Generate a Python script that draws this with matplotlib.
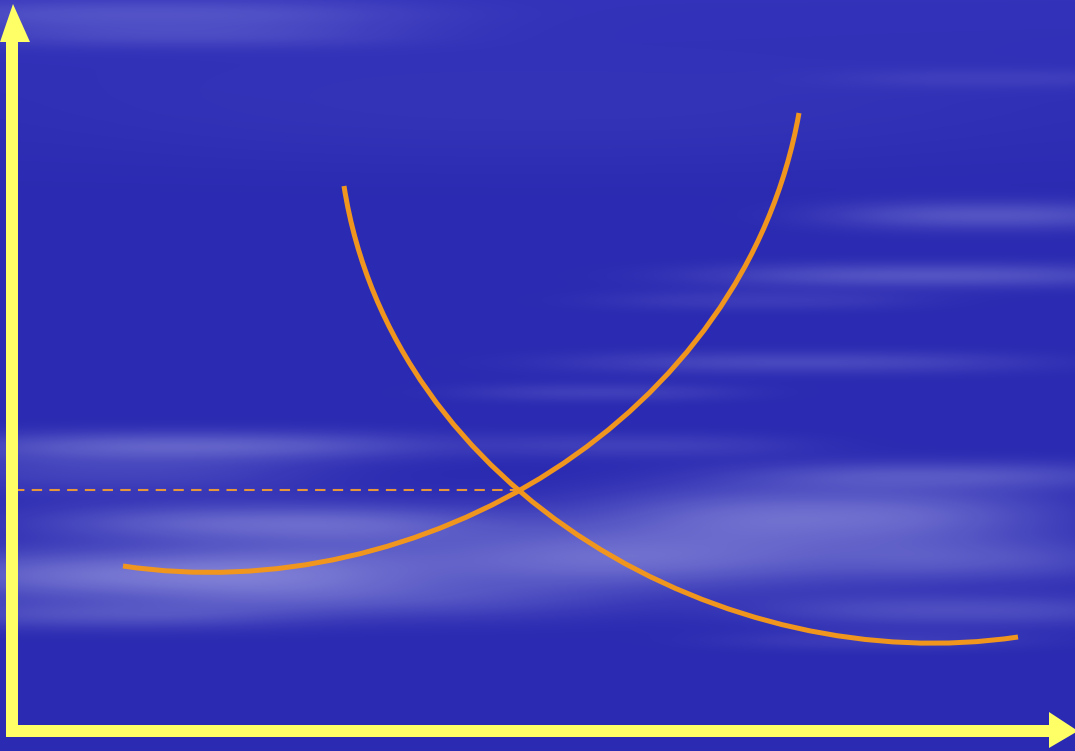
import numpy as np
import matplotlib
matplotlib.use("Agg")
import matplotlib.pyplot as plt
from matplotlib.path import Path
from matplotlib.patches import PathPatch, Polygon, Rectangle

# ---- data (arbitrary quantity / price units) ----
supply_q = [1.11, 1.88, 2.55, 3.21, 3.88, 4.55, 5.05, 5.88, 6.55, 7.05, 7.38, 7.65, 7.78, 7.87]
supply_p = [1.65, 1.62, 1.64, 1.74, 1.88, 2.09, 2.39, 2.94, 3.54, 4.18, 4.81, 5.38, 5.81, 6.18]
demand_q = [3.32, 3.41, 3.58, 3.75, 4.01, 4.41, 4.81, 5.05, 5.58, 6.24, 6.93, 7.63, 8.33, 9.23, 10.06]
demand_p = [5.45, 5.01, 4.51, 4.11, 3.61, 3.08, 2.64, 2.39, 2.01, 1.61, 1.31, 1.09, 0.95, 0.89, 0.94]
eq_q = 5.05
eq_p = 2.41

XMIN, XMAX, YMIN, YMAX = -0.12, 10.63, -0.20, 7.31
CURVE = "#F0961E"
YELLOW = "#FFFF66"

fig = plt.figure(figsize=(10.75, 7.51), dpi=100)
ax = fig.add_axes([0, 0, 1, 1])
ax.set_xlim(XMIN, XMAX)
ax.set_ylim(YMIN, YMAX)
ax.axis("off")

# ---- cloudy blue background ----
H, W = 751, 1075
yy, xx = np.mgrid[0:H, 0:W].astype(float)
base = np.array([42, 42, 178], float)
light = np.array([160, 160, 228], float)
# (cx, cy, half-length, half-height, strength)
streaks = [
    (150, 14, 260, 16, 0.28), (180, 36, 220, 12, 0.18),
    (200, 445, 230, 14, 0.40), (120, 470, 200, 25, 0.22),
    (260, 522, 220, 18, 0.42), (150, 575, 240, 26, 0.58), (100, 615, 180, 14, 0.28),
    (450, 555, 280, 40, 0.32), (380, 600, 220, 20, 0.22),
    (830, 515, 220, 30, 0.55), (940, 475, 200, 14, 0.32), (700, 560, 220, 28, 0.35),
    (990, 560, 140, 22, 0.30), (960, 610, 200, 16, 0.30), (880, 640, 160, 10, 0.15),
    (990, 215, 160, 14, 0.35), (930, 275, 220, 12, 0.35), (760, 300, 160, 10, 0.15),
    (800, 362, 230, 11, 0.25), (600, 392, 140, 9, 0.18), (640, 445, 160, 12, 0.18),
    (1000, 78, 160, 10, 0.12), (540, 110, 500, 60, 0.05),
]
m = np.zeros((H, W))
for cx, cy, sx, sy, a in streaks:
    m += a * np.exp(-np.abs((xx - cx) / sx) ** 2.5 - ((yy - cy) / sy) ** 2)
m = np.clip(m, 0, 1)
img = base[None, None, :] * (1 - m[..., None]) + light[None, None, :] * m[..., None]
img += (1 - yy / 200).clip(0, 1)[..., None] * np.array([8, 8, 8])
img = np.clip(img, 0, 255) / 255.0
ax.imshow(img, extent=(XMIN, XMAX, YMIN, YMAX), origin="upper", aspect="auto", zorder=0)

# ---- least-squares cubic Bezier through the read points ----
def bezier_fit(xs, ys):
    P = np.column_stack([xs, ys])
    d = np.sqrt((np.diff(P, axis=0) ** 2).sum(axis=1))
    t = np.concatenate([[0], np.cumsum(d)]) / d.sum()
    P0, P3 = P[0], P[-1]
    b0 = (1 - t) ** 3
    b1 = 3 * (1 - t) ** 2 * t
    b2 = 3 * (1 - t) * t ** 2
    b3 = t ** 3
    A = np.column_stack([b1, b2])
    R = P - np.outer(b0, P0) - np.outer(b3, P3)
    C, *_ = np.linalg.lstsq(A, R, rcond=None)
    return Path([P0, C[0], C[1], P3], [Path.MOVETO, Path.CURVE4, Path.CURVE4, Path.CURVE4])

for q, p in [(supply_q, supply_p), (demand_q, demand_p)]:
    ax.add_patch(PathPatch(bezier_fit(q, p), fill=False, edgecolor=CURVE,
                           linewidth=3.6, capstyle="butt", zorder=3))

# dashed equilibrium price line
ax.plot([0.02, eq_q], [eq_p, eq_p], color="#E8963A", linewidth=1.5,
        linestyle=(0, (5, 3.5)), zorder=2)

# ---- axis arrows ----
ax.add_patch(Rectangle((-0.06, -0.06), 0.12, 6.95, color=YELLOW, zorder=4, lw=0))
ax.add_patch(Polygon([(-0.12, 6.89), (0.18, 6.89), (0.01, 7.27)], closed=True,
                     color=YELLOW, zorder=4, lw=0))
ax.add_patch(Rectangle((0.01, -0.06), 10.38, 0.12, color=YELLOW, zorder=4, lw=0))
ax.add_patch(Polygon([(10.37, 0.19), (10.37, -0.17), (10.66, 0.0)], closed=True,
                     color=YELLOW, zorder=4, lw=0))

fig.savefig("out.png", dpi=100)
